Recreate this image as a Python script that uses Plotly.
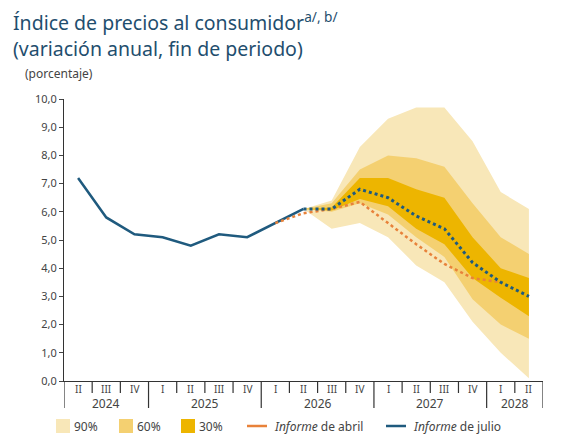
import plotly.graph_objects as go

quarters = ["II","III","IV","I","II","III","IV","I","II","III","IV","I","II","III","IV","I","II"]
years = ["2024","2025","2026","2027","2028"]
year_spans = [(0,2),(3,6),(7,10),(11,14),(15,16)]
hist = [7.2,5.8,5.2,5.1,4.8,5.2,5.1,5.6,6.1]
fx = list(range(8,17))
julio = [6.1,6.1,6.8,6.5,5.85,5.4,4.2,3.5,3.0]
abril_x = list(range(7,16))
abril = [5.6,5.95,6.1,6.35,5.6,4.85,4.15,3.65,3.5]
u90 = [6.1,6.4,8.3,9.3,9.7,9.7,8.5,6.7,6.1]
l90 = [6.1,5.4,5.6,5.1,4.1,3.5,2.1,1.0,0.1]
u60 = [6.1,6.3,7.5,8.0,7.9,7.6,6.3,5.1,4.5]
l60 = [6.1,6.0,6.3,5.9,5.1,4.4,2.9,2.0,1.5]
u30 = [6.1,6.15,7.2,7.2,6.8,6.5,5.1,4.0,3.65]
l30 = [6.1,6.05,6.45,6.2,5.4,4.85,3.65,2.95,2.3]

C90, C60, C30 = "#F8E7B8", "#F4D071", "#EDB500"
BLUE, ORANGE = "#1F5A7E", "#E8823A"
F = "Noto Sans"
H = 282.0
W = 479.0

def py(pix):
    return (380 - pix) / H
def px(pix):
    return (pix - 63) / W

fig = go.Figure()
for u, l, c in [(u90,l90,C90),(u60,l60,C60),(u30,l30,C30)]:
    fig.add_trace(go.Scatter(x=fx+fx[::-1], y=u+l[::-1], fill="toself", fillcolor=c,
                             line=dict(width=0), mode="lines", hoverinfo="skip"))
fig.add_trace(go.Scatter(x=list(range(len(hist))), y=hist, mode="lines", line=dict(color=BLUE, width=2.5)))
fig.add_trace(go.Scatter(x=abril_x, y=abril, mode="lines", line=dict(color=ORANGE, width=2.5, dash="dot")))
fig.add_trace(go.Scatter(x=fx, y=julio, mode="lines", line=dict(color=BLUE, width=3, dash="dot")))

shapes = []
yb = set(s for s, e in year_spans[1:])
for b in range(1, 17):
    long = b in yb
    shapes.append(dict(type="line", xref="x", yref="paper", x0=b-0.5, x1=b-0.5, y0=0,
                       y1=py(407) if long else py(392), line=dict(color="#333", width=1.2)))
for b in [-0.5, 16.5]:
    shapes.append(dict(type="line", xref="x", yref="paper", x0=b, x1=b, y0=0, y1=py(407),
                       line=dict(color="#333", width=1.2)))
ann = []
for i, q in enumerate(quarters):
    ann.append(dict(x=i, y=py(388), xref="x", yref="paper", text=q, showarrow=False, yanchor="middle",
                    font=dict(family=F, size=10, color="#444")))
for (s, e), yr in zip(year_spans, years):
    ann.append(dict(x=(s+e)/2, y=py(402), xref="x", yref="paper", text=yr, showarrow=False, yanchor="middle",
                    font=dict(family=F, size=12, color="#444")))
for c, t, p in [(C90,"90%",55),(C60,"60%",118),(C30,"30%",180)]:
    shapes.append(dict(type="rect", xref="paper", yref="paper", x0=px(p), x1=px(p+14),
                       y0=py(418), y1=py(432), fillcolor=c, line=dict(width=0)))
    ann.append(dict(x=px(p+16), y=py(425), xref="paper", yref="paper", text=t, showarrow=False,
                    xanchor="left", yanchor="middle", font=dict(family=F, size=12, color="#444")))
for c, t, p in [(ORANGE,"<i>Informe</i> de abril",246),(BLUE,"<i>Informe</i> de julio",385)]:
    shapes.append(dict(type="line", xref="paper", yref="paper", x0=px(p), x1=px(p+20),
                       y0=py(425), y1=py(425), line=dict(color=c, width=2.5)))
    ann.append(dict(x=px(p+25), y=py(425), xref="paper", yref="paper", text=t, showarrow=False,
                    xanchor="left", yanchor="middle", font=dict(family=F, size=12, color="#444")))
ann.append(dict(x=px(10), y=py(4), xref="paper", yref="paper", xanchor="left", yanchor="top",
                showarrow=False, align="left",
                text="Índice de precios al consumidor<sup style='font-size:12px'>a/, b/</sup><br>(variación anual, fin de periodo)",
                font=dict(family=F, size=19.5, color="#1F4E6E")))
ann.append(dict(x=px(22), y=py(73), xref="paper", yref="paper", xanchor="left", yanchor="middle",
                showarrow=False, text="(porcentaje)", font=dict(family=F, size=12, color="#444")))

fig.update_layout(width=565, height=441, margin=dict(l=56, r=30, t=91, b=68, pad=0),
                  plot_bgcolor="white", paper_bgcolor="white", showlegend=False,
                  shapes=shapes, annotations=ann,
                  xaxis=dict(range=[-0.5,16.5], showticklabels=False, showgrid=False, zeroline=False,
                             showline=True, linecolor="#333", linewidth=1.2, ticks=""),
                  yaxis=dict(range=[0,10], tickvals=[i for i in range(11)],
                             ticktext=[f"{i},0" for i in range(11)], showgrid=False, zeroline=False,
                             showline=True, linecolor="#333", ticks="outside", ticklen=4,
                             tickfont=dict(family=F, size=11, color="#444")))
fig.write_html("out.html")
